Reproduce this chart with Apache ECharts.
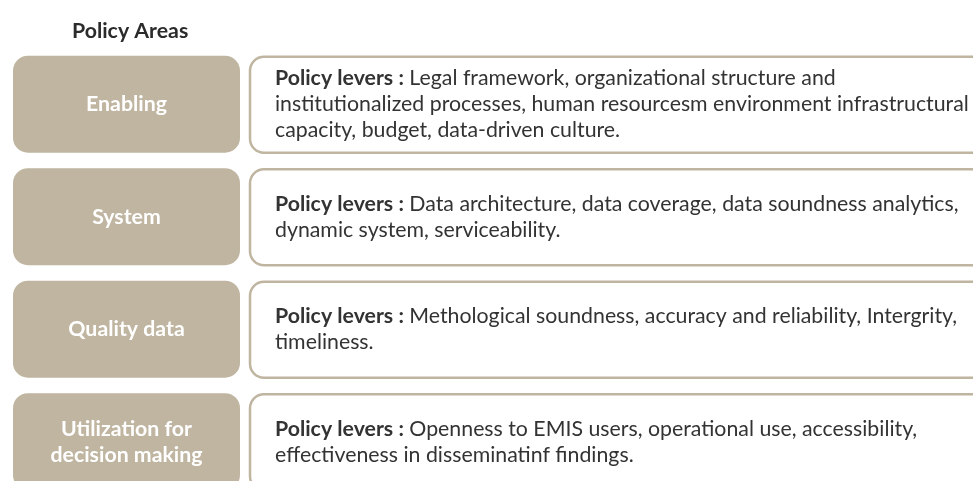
<!DOCTYPE html>
<html>
<head>
<meta charset="utf-8">
<script src="https://cdn.jsdelivr.net/npm/echarts@6/dist/echarts.min.js"></script>
<style>
html,body{margin:0;padding:0;background:#fff;}
#chart{width:973px;height:481px;}
</style>
</head>
<body>
<div id="chart"></div>
<script>
const titleText = 'Policy Areas';
const areas = ['Enabling', 'System', 'Quality data', 'Utilization for\ndecision making'];
const leverLabel = 'Policy levers :';
const leverText = [
  'Legal framework, organizational structure and\ninstitutionalized processes, human resourcesm environment infrastructural\ncapacity, budget, data-driven culture.',
  'Data architecture, data coverage, data soundness analytics,\ndynamic system, serviceability.',
  'Methological soundness, accuracy and reliability, Intergrity,\ntimeliness.',
  'Openness to EMIS users, operational use, accessibility,\neffectiveness in disseminatinf findings.'
];
const rowIndex = [0, 1, 2, 3];

const FONT = 'Lato, "Noto Sans", sans-serif';
const TAN = '#bfb5a0';
const TEXT = '#333333';
const FS = 21.3;

const chart = echarts.init(document.getElementById('chart'), null, {renderer: 'canvas'});
chart.setOption({
  animation: false,
  backgroundColor: '#ffffff',
  title: {
    text: titleText,
    left: 67,
    top: 16,
    textStyle: {fontFamily: FONT, fontSize: 21.3, fontWeight: 'bold', color: '#2b2b2b'}
  },
  grid: {left: 0, right: 0, top: 48, bottom: 0, outerBoundsMode: 'none'},
  xAxis: {type: 'value', min: 0, max: 1, show: false},
  yAxis: {type: 'value', inverse: true, min: 0, max: 3.85, show: false},
  series: [{
    type: 'custom',
    clip: false,
    data: rowIndex.map(function (r) { return [0, r]; }),
    encode: {x: 0, y: 1},
    renderItem: function (params, api) {
      const r = api.value(1);
      const y0 = api.coord([0, r])[1];
      const y1 = api.coord([0, r + 1])[1];
      const band = y1 - y0;
      const pad = band * 0.069;
      const top = y0 + pad;
      const h = band - 2 * pad;
      const cy = top + h / 2;
      const i = params.dataIndex;
      return {
        type: 'group',
        children: [
          {
            type: 'rect',
            shape: {x: 13, y: top, width: 227, height: h, r: 15},
            style: {fill: TAN}
          },
          {
            type: 'text',
            style: {
              text: areas[i], x: 126.5, y: cy, align: 'center', verticalAlign: 'middle',
              fontFamily: FONT, fontSize: FS, fontWeight: 'bold', fill: '#ffffff', lineHeight: 26
            }
          },
          {
            type: 'rect',
            shape: {x: 250, y: top + 1, width: 760, height: h - 1, r: 14},
            style: {fill: '#ffffff', stroke: TAN, lineWidth: 2.5}
          },
          {
            type: 'text',
            style: {
              text: '{b|' + leverLabel + '} ' + leverText[i],
              x: 275, y: cy, align: 'left', verticalAlign: 'middle',
              fontFamily: FONT, fontSize: FS, fill: TEXT, lineHeight: 26,
              rich: {b: {fontFamily: FONT, fontSize: FS, fontWeight: 'bold', fill: TEXT, lineHeight: 26}}
            }
          }
        ]
      };
    }
  }]
});
</script>
</body>
</html>
